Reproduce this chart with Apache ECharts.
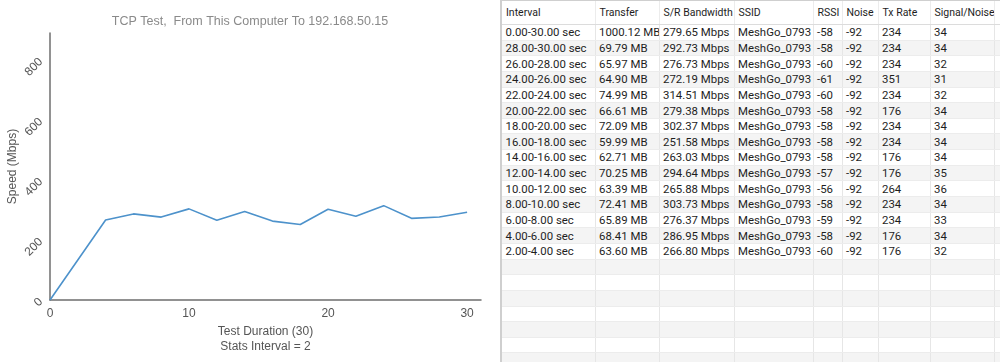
<!DOCTYPE html>
<html>
<head>
<meta charset="utf-8">
<script src="https://cdn.jsdelivr.net/npm/echarts@6/dist/echarts.min.js"></script>
<style>
  html, body { margin: 0; padding: 0; background: #fff; width: 1000px; height: 362px; overflow: hidden; }
  #chart { position: absolute; left: 0; top: 0; width: 500px; height: 362px; }
  #tableWrap { position: absolute; left: 500px; top: 0; width: 500px; height: 362px; overflow: hidden;
    border-left: 2px solid #cfcfcf; border-top: 1px solid #cfcfcf; box-sizing: border-box; }
  table { border-collapse: collapse; table-layout: fixed; font-family: Roboto, "Noto Sans", sans-serif; color: #1e1e1e; }
  th { font-weight: normal; font-size: 10.5px; text-align: left; height: 23px; padding: 0 0 0 4px;
       border-bottom: 1px solid #dcdcdc; border-right: 1px solid #ececec; white-space: nowrap; overflow: hidden; background: #fff; }
  td { font-size: 11.4px; height: 14.65px; padding: 0 0 0 3.5px; border-right: 1px solid #e6e6e6; border-bottom: 1px solid #ececec;
       white-space: nowrap; overflow: hidden; line-height: 14px; }
  tr.odd td { background: #f4f4f4; }
</style>
</head>
<body>
<div id="chart"></div>
<div id="tableWrap"><table id="tbl"></table></div>
<script>
// ---- data ----
var columns = ["Interval", "Transfer", "S/R Bandwidth", "SSID", "RSSI", "Noise", "Tx Rate", "Signal/Noise"];
var intervals = ["0.00-30.00 sec", "28.00-30.00 sec", "26.00-28.00 sec", "24.00-26.00 sec", "22.00-24.00 sec",
  "20.00-22.00 sec", "18.00-20.00 sec", "16.00-18.00 sec", "14.00-16.00 sec", "12.00-14.00 sec",
  "10.00-12.00 sec", "8.00-10.00 sec", "6.00-8.00 sec", "4.00-6.00 sec", "2.00-4.00 sec"];
var transfer = [1000.12, 69.79, 65.97, 64.90, 74.99, 66.61, 72.09, 59.99, 62.71, 70.25, 63.39, 72.41, 65.89, 68.41, 63.60];
var bandwidth = [279.65, 292.73, 276.73, 272.19, 314.51, 279.38, 302.37, 251.58, 263.03, 294.64, 265.88, 303.73, 276.37, 286.95, 266.80];
var ssid = "MeshGo_0793";
var rssi = [-58, -58, -60, -61, -60, -58, -58, -58, -58, -57, -56, -58, -59, -58, -60];
var noise = [-92, -92, -92, -92, -92, -92, -92, -92, -92, -92, -92, -92, -92, -92, -92];
var txRate = [234, 234, 234, 351, 234, 176, 234, 234, 176, 176, 264, 234, 234, 176, 176];
var snr = [34, 34, 32, 31, 32, 34, 34, 34, 34, 35, 36, 34, 33, 34, 32];
// chart series: time (end of each 2s interval) vs speed; starts at origin
var timeEnd = [0, 4, 6, 8, 10, 12, 14, 16, 18, 20, 22, 24, 26, 28, 30];
var speed = [0, 266.80, 286.95, 276.37, 303.73, 265.88, 294.64, 263.03, 251.58, 302.37, 279.38, 314.51, 272.19, 276.73, 292.73];
var xTicks = [0, 10, 20, 30];
var yTicks = [0, 200, 400, 600, 800];

// ---- chart ----
var chart = echarts.init(document.getElementById('chart'), null, { renderer: 'canvas' });
var font = '"Liberation Sans", Arial, sans-serif';
chart.setOption({
  animation: false,
  textStyle: { fontFamily: font },
  title: {
    text: 'TCP Test,  From This Computer To 192.168.50.15',
    left: 'center', top: 10,
    textStyle: { fontFamily: font, fontSize: 12.5, fontWeight: 'normal', color: '#8a8a8a' }
  },
  grid: { left: 50, right: 19, top: 33, bottom: 62, containLabel: false, outerBoundsMode: 'none' },
  xAxis: {
    type: 'value', min: 0, max: 31, interval: 10,
    name: 'Test Duration (30)\nStats Interval = 2', nameLocation: 'middle', nameGap: 24, nameMoveOverlap: false,
    nameTextStyle: { fontFamily: font, fontSize: 12, color: '#555', lineHeight: 15 },
    axisLine: { show: true, lineStyle: { color: '#6e6e6e', width: 1.5 } },
    axisTick: { show: false },
    splitLine: { show: false },
    axisLabel: { margin: 8, fontSize: 12, color: '#555', fontFamily: font, customValues: xTicks }
  },
  yAxis: {
    type: 'value', min: 0, max: 890, interval: 200,
    name: 'Speed (Mbps)', nameLocation: 'middle', nameGap: 31, nameRotate: 90, nameMoveOverlap: false,
    nameTextStyle: { fontFamily: font, fontSize: 12, color: '#555' },
    axisLine: { show: true, lineStyle: { color: '#6e6e6e', width: 1.5 } },
    axisTick: { show: false },
    splitLine: { show: false },
    axisLabel: { rotate: 45, margin: 9, fontSize: 12, color: '#555', fontFamily: font, customValues: yTicks }
  },
  series: [{
    type: 'line',
    data: timeEnd.map(function (t, i) { return [t, speed[i]]; }),
    showSymbol: false,
    lineStyle: { color: '#4d92cb', width: 1.6 },
    itemStyle: { color: '#4d92cb' }
  }]
});

// ---- table ----
var widths = [93, 64, 75, 79, 29, 36, 52, 64, 10];
var tbl = document.getElementById('tbl');
var cg = document.createElement('colgroup');
widths.forEach(function (w) { var c = document.createElement('col'); c.style.width = w + 'px'; cg.appendChild(c); });
tbl.appendChild(cg);
tbl.style.width = widths.reduce(function (a, b) { return a + b; }, 0) + 'px';
var thead = document.createElement('tr');
columns.concat(['']).forEach(function (h) { var th = document.createElement('th'); th.textContent = h; thead.appendChild(th); });
tbl.appendChild(thead);
var totalRows = 22;
for (var r = 0; r < totalRows; r++) {
  var tr = document.createElement('tr');
  if (r % 2 === 1) tr.className = 'odd';
  var cells;
  if (r < intervals.length) {
    cells = [intervals[r], transfer[r].toFixed(2) + ' MB', bandwidth[r].toFixed(2) + ' Mbps', ssid,
      String(rssi[r]), String(noise[r]), String(txRate[r]), String(snr[r]), ''];
  } else {
    cells = ['', '', '', '', '', '', '', '', ''];
  }
  cells.forEach(function (v) { var td = document.createElement('td'); td.textContent = v; tr.appendChild(td); });
  tbl.appendChild(tr);
}
</script>
</body>
</html>
